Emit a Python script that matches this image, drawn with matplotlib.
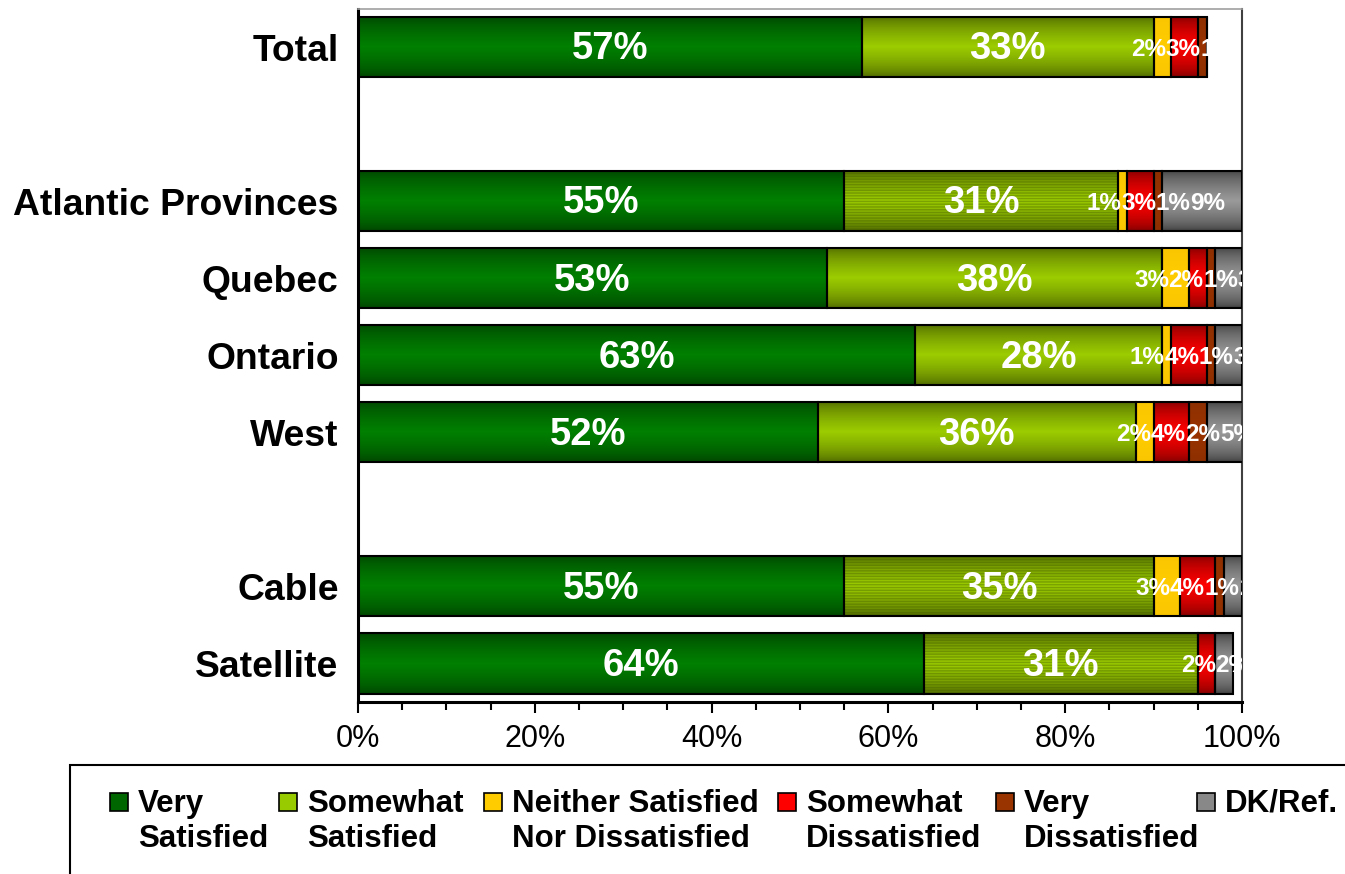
import numpy as np
import matplotlib
matplotlib.use("Agg")
import matplotlib.pyplot as plt
from matplotlib.colors import LinearSegmentedColormap
from matplotlib.patches import Rectangle

# ---------------- data ----------------
categories = ["Total", "Atlantic Provinces", "Quebec", "Ontario", "West", "Cable", "Satellite"]
series_names = ["Very\nSatisfied", "Somewhat\nSatisfied", "Neither Satisfied\nNor Dissatisfied",
                "Somewhat\nDissatisfied", "Very\nDissatisfied", "DK/Ref."]
very_satisfied = [57, 55, 53, 63, 52, 55, 64]
somewhat_satisfied = [33, 31, 38, 28, 36, 35, 31]
neither = [2, 1, 3, 1, 2, 3, 0]
somewhat_dissatisfied = [3, 3, 2, 4, 4, 4, 2]
very_dissatisfied = [1, 1, 1, 1, 2, 1, 0]
dk_ref = [0, 9, 3, 3, 5, 2, 2]
x_ticks = [0, 20, 40, 60, 80, 100]
x_tick_labels = ["0%", "20%", "40%", "60%", "80%", "100%"]

series = [very_satisfied, somewhat_satisfied, neither, somewhat_dissatisfied, very_dissatisfied, dk_ref]

# ---------------- style ----------------
FONT = "Liberation Sans"
plt.rcParams["font.family"] = [FONT, "DejaVu Sans"]
grad_colors = [("#004000", "#008000"), ("#4a6300", "#9ccc00"), ("#f7c400", "#ffcc00"),
               ("#7a0000", "#ff0000"), ("#8a2e00", "#993300"), ("#3a3a3a", "#9a9a9a")]
legend_face = ["#006600", "#99cc00", "#ffcc00", "#ff0000", "#993300", "#888888"]
label_sizes = [27.5, 27.5, 17.5, 17.5, 17.5, 17.5]
y_pos = [0, 2, 3, 4, 5, 7, 8]   # layout: gaps between groups
bar_h = 0.78
textured_rows = ("Atlantic Provinces", "Cable", "Satellite")

fig = plt.figure(figsize=(13.45, 8.74), dpi=100)
W, H = 1345, 874
ax = fig.add_axes([358 / W, 1 - 702 / H, (1242 - 358) / W, (702 - 8.5) / H])

t = np.linspace(0, 1, 128)
profile = (1 - np.abs(2 * t - 1)) ** 0.6
grad = profile[:, None]

small_labels = {i: [] for i in range(len(categories))}
left = np.zeros(len(categories))
for si, vals in enumerate(series):
    vals = np.array(vals, dtype=float)
    cmap = LinearSegmentedColormap.from_list("g%d" % si, list(grad_colors[si]))
    bars = ax.barh(y_pos, vals, left=left, height=bar_h, facecolor="none",
                   edgecolor="black", linewidth=1.5, zorder=3)
    for ri, (p, v) in enumerate(zip(bars.patches, vals)):
        if v <= 0:
            continue
        x0, y0, w, h = p.get_x(), p.get_y(), p.get_width(), p.get_height()
        ax.imshow(grad, cmap=cmap, vmin=0, vmax=1, aspect="auto",
                  extent=(x0, x0 + w, y0 + h, y0), zorder=1, interpolation="bilinear")
        if si == 1 and categories[ri] in textured_rows:
            ax.barh(y0 + h / 2, w, left=x0, height=h, facecolor="none",
                    edgecolor=(0.25, 0.35, 0.0, 0.35), linewidth=0, hatch="-" * 6, zorder=2)
        if si < 2:
            ax.text(x0 + w / 2, y0 + h / 2 + 0.03, "%d%%" % v, ha="center", va="center",
                    color="white", fontweight="bold", fontsize=label_sizes[si],
                    zorder=4, clip_on=True)
        else:
            small_labels[ri].append([x0 + w / 2, y0 + h / 2 + 0.03, "%d%%" % v, si])
    left = left + vals

# spread small labels so they sit side by side (Excel-like placement)
lab_w = 3.9  # approx label width in axis (%) units
for ri, labs in small_labels.items():
    xs = [l[0] for l in labs]
    for _ in range(200):
        moved = False
        for k in range(len(xs) - 1):
            gap = xs[k + 1] - xs[k]
            if gap < lab_w - 1e-6:
                d = (lab_w - gap) / 2
                xs[k] -= d
                xs[k + 1] += d
                moved = True
        if not moved:
            break
    for l, xx in zip(labs, xs):
        ax.text(xx, l[1], l[2], ha="center", va="center", color="white",
                fontweight="bold", fontsize=label_sizes[l[3]], zorder=4, clip_on=True)

ax.set_xlim(0, 100)
ax.set_ylim(8.5, -0.5)
ax.set_yticks(y_pos)
ax.set_yticklabels(categories, fontsize=26.8, fontweight="bold")
ax.tick_params(axis="y", length=0, pad=14)
ax.set_xticks(x_ticks)
ax.set_xticklabels(x_tick_labels, fontsize=22)
ax.set_xticks(np.arange(0, 101, 5), minor=True)
ax.tick_params(axis="x", which="major", length=8, width=1.5, direction="out", pad=8)
ax.tick_params(axis="x", which="minor", length=6, width=1.5, direction="out")
ax.spines["left"].set_linewidth(2.2)
ax.spines["bottom"].set_linewidth(2.2)
ax.spines["top"].set_color("#a0a0a0")
ax.spines["top"].set_linewidth(1.2)
ax.spines["right"].set_color("#404040")
ax.spines["right"].set_linewidth(1.5)

# ---------------- legend (manual, Excel style) ----------------
box = Rectangle((70 / W, -0.05), 1.2, (874 - 765) / H + 0.05, transform=fig.transFigure,
                facecolor="none", edgecolor="black", linewidth=1.5, clip_on=False)
fig.patches.append(box)
hx = [110, 279, 484, 778, 996, 1197]
for i, name in enumerate(series_names):
    sq = Rectangle((hx[i] / W, 1 - 811 / H), 18 / W, 18 / H, transform=fig.transFigure,
                   facecolor=legend_face[i], edgecolor="black", linewidth=1.2)
    fig.patches.append(sq)
    fig.text((hx[i] + 28) / W, 1 - 789 / H, name, ha="left", va="top",
             fontsize=22.5, fontweight="bold", linespacing=1.2)

fig.savefig("out.png", dpi=100)
